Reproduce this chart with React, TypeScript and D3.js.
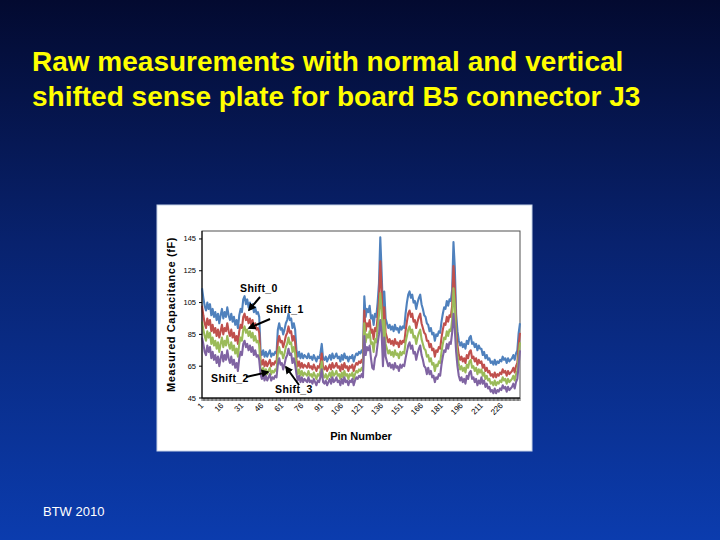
import React from "react";
import * as d3 from "d3";

const shift0 = [
  114, 108, 103, 100, 105, 101, 104, 97, 101, 96,
  99, 94, 98, 92, 97, 101, 95, 99, 96, 102,
  97, 94, 98, 93, 96, 91, 94, 89, 97, 101,
  99, 107, 109, 104, 107, 102, 105, 101, 104, 99,
  102, 98, 99, 96, 75, 72, 75, 71, 74, 71,
  73, 75, 71, 73, 72, 74, 73, 88, 92, 88,
  89, 85, 88, 92, 94, 98, 94, 95, 89, 92,
  88, 75, 71, 74, 70, 73, 70, 72, 71, 70,
  73, 70, 71, 69, 72, 70, 68, 71, 70, 73,
  79, 70, 69, 71, 68, 70, 72, 69, 73, 70,
  71, 73, 70, 71, 68, 72, 69, 73, 70, 71,
  68, 71, 70, 72, 68, 71, 73, 72, 74, 73,
  75, 73, 109, 96, 101, 99, 103, 95, 97, 91,
  98, 96, 105, 117, 146, 124, 99, 112, 95, 92,
  89, 91, 88, 90, 87, 91, 88, 89, 86, 90,
  88, 90, 89, 98, 105, 110, 112, 108, 110, 105,
  106, 101, 105, 108, 110, 104, 101, 97, 96, 92,
  91, 87, 89, 85, 86, 81, 85, 84, 87, 86,
  93, 98, 102, 101, 106, 103, 107, 106, 113, 143,
  127, 98, 87, 81, 78, 80, 77, 79, 76, 81,
  79, 83, 84, 79, 80, 77, 79, 75, 78, 76,
  76, 72, 74, 70, 72, 69, 70, 67, 68, 66,
  69, 66, 68, 67, 69, 68, 71, 69, 70, 67,
  70, 68, 69, 70, 72, 69, 73, 75, 86, 92,
];

const shift1 = [
  103, 97, 92, 89, 95, 91, 94, 87, 91, 86,
  89, 84, 88, 83, 87, 91, 85, 89, 87, 92,
  87, 84, 88, 83, 86, 81, 84, 79, 87, 91,
  89, 96, 98, 94, 96, 92, 95, 91, 94, 89,
  92, 88, 89, 86, 69, 66, 69, 65, 68, 65,
  67, 69, 65, 67, 66, 68, 67, 80, 84, 80,
  81, 77, 80, 84, 86, 90, 86, 87, 81, 84,
  80, 69, 65, 68, 64, 67, 64, 66, 65, 64,
  67, 64, 65, 63, 66, 64, 62, 65, 64, 67,
  73, 64, 63, 65, 62, 64, 66, 63, 67, 64,
  65, 67, 64, 65, 62, 66, 63, 67, 64, 65,
  62, 65, 64, 66, 62, 65, 67, 66, 68, 67,
  69, 67, 100, 87, 92, 90, 94, 86, 88, 82,
  89, 87, 96, 106, 131, 113, 90, 102, 86, 83,
  80, 82, 79, 81, 78, 82, 79, 80, 77, 81,
  79, 81, 80, 87, 93, 98, 100, 96, 98, 93,
  94, 89, 93, 96, 98, 92, 89, 86, 85, 81,
  81, 77, 79, 75, 76, 71, 75, 74, 77, 76,
  83, 88, 92, 91, 96, 93, 97, 96, 103, 128,
  114, 88, 78, 72, 69, 71, 68, 70, 67, 72,
  70, 74, 75, 70, 71, 68, 70, 66, 69, 67,
  68, 64, 66, 62, 64, 61, 62, 59, 60, 58,
  61, 58, 60, 59, 61, 60, 63, 61, 62, 59,
  62, 60, 61, 62, 64, 61, 65, 67, 78, 86,
];

const shift2 = [
  93, 88, 84, 81, 87, 83, 86, 79, 83, 78,
  81, 76, 80, 74, 79, 83, 77, 81, 78, 84,
  79, 76, 80, 75, 78, 73, 76, 71, 79, 83,
  81, 88, 90, 86, 88, 84, 87, 83, 86, 81,
  84, 80, 81, 78, 64, 61, 64, 60, 63, 60,
  62, 64, 60, 62, 61, 63, 62, 73, 77, 73,
  74, 70, 73, 77, 79, 83, 79, 80, 74, 77,
  73, 64, 60, 63, 59, 62, 59, 61, 60, 59,
  62, 59, 60, 58, 61, 59, 57, 60, 59, 62,
  68, 59, 58, 60, 57, 59, 61, 58, 62, 59,
  60, 62, 59, 60, 57, 61, 58, 62, 59, 60,
  57, 60, 59, 61, 57, 60, 62, 61, 63, 62,
  64, 62, 92, 80, 85, 83, 87, 79, 80, 74,
  82, 80, 89, 97, 111, 100, 80, 94, 79, 76,
  73, 75, 72, 74, 71, 75, 72, 73, 70, 74,
  72, 74, 73, 80, 84, 88, 90, 86, 88, 83,
  84, 79, 83, 86, 88, 82, 79, 76, 75, 71,
  72, 68, 70, 66, 67, 62, 66, 65, 68, 67,
  74, 79, 83, 82, 87, 84, 88, 87, 94, 114,
  103, 81, 72, 66, 63, 65, 62, 64, 61, 66,
  64, 68, 69, 64, 65, 62, 64, 60, 63, 61,
  63, 59, 61, 57, 59, 56, 57, 54, 55, 53,
  56, 53, 55, 54, 56, 55, 58, 56, 57, 54,
  57, 55, 56, 57, 59, 56, 60, 62, 72, 80,
];

const shift3 = [
  83, 79, 74, 72, 78, 74, 77, 70, 74, 69,
  72, 67, 71, 65, 70, 74, 68, 72, 69, 75,
  70, 67, 71, 66, 69, 64, 67, 62, 70, 74,
  72, 79, 81, 77, 79, 75, 78, 74, 77, 72,
  75, 71, 72, 69, 60, 57, 60, 56, 59, 56,
  58, 60, 56, 58, 57, 59, 58, 66, 70, 66,
  67, 63, 66, 70, 72, 76, 72, 73, 67, 70,
  66, 60, 56, 59, 55, 58, 55, 57, 56, 55,
  58, 55, 56, 54, 57, 55, 53, 56, 55, 58,
  63, 55, 54, 56, 53, 55, 57, 54, 58, 55,
  56, 58, 55, 56, 53, 57, 54, 58, 55, 56,
  53, 56, 55, 57, 53, 56, 58, 57, 59, 58,
  60, 58, 84, 72, 77, 75, 78, 70, 64, 63,
  70, 72, 79, 85, 94, 86, 65, 83, 71, 68,
  65, 67, 64, 66, 63, 67, 64, 65, 62, 66,
  64, 66, 65, 70, 74, 78, 80, 76, 78, 73,
  74, 69, 73, 76, 78, 72, 69, 65, 64, 60,
  64, 60, 62, 58, 59, 55, 58, 57, 60, 59,
  66, 71, 75, 74, 79, 76, 80, 79, 86, 98,
  88, 74, 65, 59, 56, 58, 55, 57, 54, 59,
  57, 61, 62, 57, 58, 55, 57, 53, 56, 54,
  58, 54, 56, 52, 54, 51, 52, 49, 50, 48,
  51, 48, 50, 49, 51, 50, 53, 51, 52, 49,
  52, 50, 51, 52, 54, 51, 55, 57, 66, 75,
];

const seriesNames = ["Shift_0", "Shift_1", "Shift_2", "Shift_3"];
const seriesColors = ["#4F81BD", "#C0504D", "#9BBB59", "#8064A2"];
const yTicks = [45, 65, 85, 105, 125, 145];
const xTickLabels = ["1", "16", "31", "46", "61", "76", "91", "106", "121", "136", "151", "166", "181", "196", "211", "226"];

const titleLines = [
  "Raw measurements with normal and vertical",
  "shifted sense plate for board B5 connector J3",
];

export default function App() {
  const W = 720;
  const H = 540;
  const left = 202;
  const right = 520;
  const top = 231;
  const bottom = 398;
  const allSeries = [shift0, shift1, shift2, shift3];
  const n = shift0.length;
  const pins = d3.range(1, n + 1);
  const x = d3.scaleLinear().domain([1, n]).range([left, right]);
  const y = d3.scaleLinear().domain([45, 150]).range([bottom, top]);
  const line = d3
    .line<number>()
    .x((_, i) => x(pins[i]))
    .y((d) => y(d));

  const font = "'Liberation Sans', Arial, sans-serif";

  return (
    <svg
      width={W}
      height={H}
      viewBox={`0 0 ${W} ${H}`}
      style={{ position: "fixed", left: 0, top: 0, display: "block" }}
      fontFamily={font}
    >
      <defs>
        <linearGradient id="bg" x1="0" y1="0" x2="0" y2="1">
          <stop offset="0%" stopColor="#030a30" />
          <stop offset="45%" stopColor="#08226e" />
          <stop offset="100%" stopColor="#0b3cae" />
        </linearGradient>
        <marker id="ah" viewBox="0 0 10 10" refX="8" refY="5" markerWidth="4" markerHeight="4" orient="auto-start-reverse">
          <path d="M0,0 L10,5 L0,10 z" fill="#000" />
        </marker>
      </defs>
      <rect x={0} y={0} width={W} height={H} fill="url(#bg)" />

      {titleLines.map((t, i) => (
        <text key={i} x={32} y={71 + i * 35} fill="#ffff00" fontSize={28} fontWeight="bold">
          {t}
        </text>
      ))}

      <text x={43} y={516} fill="#ffffff" fontSize={13}>
        BTW 2010
      </text>

      {/* chart area */}
      <rect x={157} y={205} width={375} height={246} fill="#ffffff" stroke="#c8d4e8" strokeWidth={1} />

      {/* plot frame */}
      <rect x={left} y={top} width={right - left} height={bottom - top} fill="none" stroke="#505050" strokeWidth={1} />

      {/* series */}
      {allSeries.map((s, k) => (
        <path key={k} d={line(s) || ""} fill="none" stroke={seriesColors[k]} strokeWidth={2.1} strokeLinejoin="round" />
      ))}

      {/* axes */}
      <line x1={left} y1={top} x2={left} y2={bottom} stroke="#000" strokeWidth={1} />
      <line x1={left} y1={bottom} x2={right} y2={bottom} stroke="#000" strokeWidth={1} />
      {yTicks.map((t) => (
        <g key={t}>
          <line x1={left - 3} x2={left} y1={y(t)} y2={y(t)} stroke="#000" />
          <text x={left - 6} y={y(t) + 2.5} textAnchor="end" fontSize={7.5} fill="#000">
            {t}
          </text>
        </g>
      ))}
      {pins.map((p) => (
        <line key={p} x1={x(p)} x2={x(p)} y1={bottom} y2={bottom + 3} stroke="#000" strokeWidth={0.6} />
      ))}
      {xTickLabels.map((lab) => {
        const px = x(+lab);
        return (
          <text
            key={lab}
            transform={`translate(${px + 2},${bottom + 8}) rotate(-45)`}
            textAnchor="end"
            fontSize={8}
            fill="#000"
          >
            {lab}
          </text>
        );
      })}

      <text
        transform={`translate(175,${(top + bottom) / 2}) rotate(-90)`}
        textAnchor="middle"
        fontSize={11}
        fontWeight="bold"
        fill="#000"
        letterSpacing={0.6}
      >
        Measured Capacitance (fF)
      </text>
      <text x={361} y={440} textAnchor="middle" fontSize={11} fontWeight="bold" fill="#000">
        Pin Number
      </text>

      {/* annotations */}
      <text x={240} y={292} fontSize={10.5} fontWeight="bold" fill="#000" letterSpacing={0.4}>
        {seriesNames[0]}
      </text>
      <line x1={260} y1={297} x2={249} y2={310} stroke="#000" strokeWidth={2} markerEnd="url(#ah)" />
      <text x={266} y={313} fontSize={10.5} fontWeight="bold" fill="#000" letterSpacing={0.4}>
        {seriesNames[1]}
      </text>
      <line x1={270} y1={319} x2={249} y2={328} stroke="#000" strokeWidth={2} markerEnd="url(#ah)" />
      <text x={211} y={382} fontSize={10.5} fontWeight="bold" fill="#000" letterSpacing={0.4}>
        {seriesNames[2]}
      </text>
      <line x1={246} y1={377} x2={268} y2={372} stroke="#000" strokeWidth={2} markerEnd="url(#ah)" />
      <text x={275} y={393} fontSize={10.5} fontWeight="bold" fill="#000" letterSpacing={0.4}>
        {seriesNames[3]}
      </text>
      <line x1={299} y1={385} x2={286} y2={367} stroke="#000" strokeWidth={2} markerEnd="url(#ah)" />
    </svg>
  );
}
